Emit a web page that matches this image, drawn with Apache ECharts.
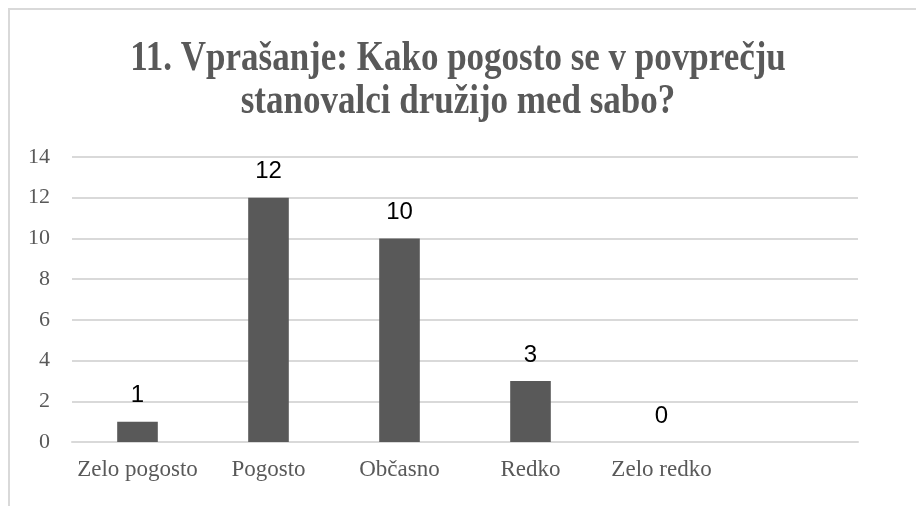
<!DOCTYPE html>
<html>
<head>
<meta charset="utf-8">
<script src="https://cdn.jsdelivr.net/npm/echarts@6/dist/echarts.min.js"></script>
<style>
html,body{margin:0;padding:0;background:#fff;}
#frame{position:absolute;left:8px;top:8px;width:920px;height:510px;border-left:2px solid #d9d9d9;border-top:2px solid #d9d9d9;}
#chart{position:absolute;left:0;top:0;width:916px;height:506px;}
</style>
</head>
<body>
<div id="frame"></div>
<div id="chart"></div>
<script>
const titleLines = ["11. Vprašanje: Kako pogosto se v povprečju", "stanovalci družijo med sabo?"];
const categories = ["Zelo pogosto", "Pogosto", "Občasno", "Redko", "Zelo redko", ""];
const values = [1, 12, 10, 3, 0];
const yTicks = { min: 0, max: 14, interval: 2 };

const chart = echarts.init(document.getElementById('chart'), null, { renderer: 'canvas' });
const titleFont = 'bold 35px "Liberation Serif"';
chart.setOption({
  backgroundColor: 'transparent',
  animation: false,
  graphic: titleLines.map((t, i) => ({
    type: 'text',
    x: 458,
    y: 80 + i * 43,
    scaleY: 1.2,
    silent: true,
    style: {
      text: t,
      font: titleFont,
      fill: '#595959',
      align: 'center',
      verticalAlign: 'bottom'
    }
  })),
  grid: { left: 72, right: 58, top: 157, bottom: 64, containLabel: false },
  xAxis: {
    type: 'category',
    data: categories,
    axisLine: { show: true, lineStyle: { color: '#d9d9d9', width: 2 } },
    axisTick: { show: false },
    axisLabel: {
      fontFamily: 'Liberation Serif',
      fontSize: 23,
      color: '#595959',
      margin: 16,
      interval: 0
    }
  },
  yAxis: {
    type: 'value',
    min: yTicks.min,
    max: yTicks.max,
    interval: yTicks.interval,
    axisLine: { show: false },
    axisTick: { show: false },
    splitLine: { lineStyle: { color: '#d9d9d9', width: 2 } },
    axisLabel: {
      fontFamily: 'Liberation Serif',
      fontSize: 22,
      color: '#595959',
      margin: 22
    }
  },
  series: [{
    type: 'bar',
    data: values,
    barWidth: '31%',
    itemStyle: { color: '#595959' },
    label: {
      show: true,
      position: 'top',
      distance: 14,
      fontFamily: 'Liberation Sans',
      fontSize: 24,
      color: '#000'
    }
  }]
});
</script>
</body>
</html>
